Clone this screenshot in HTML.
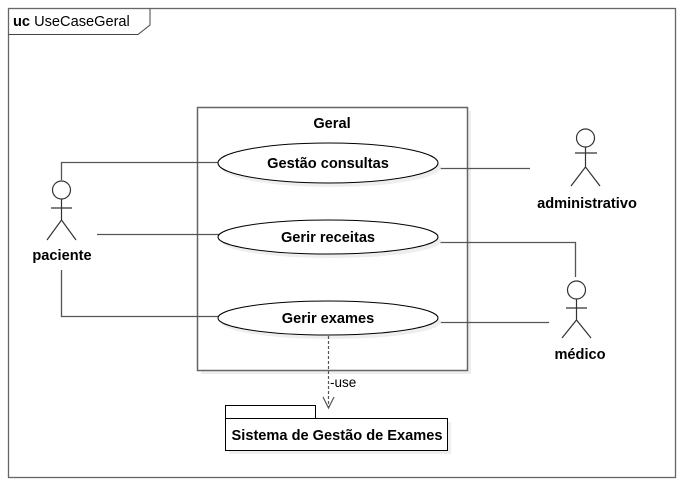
<!DOCTYPE html>
<html><head><meta charset="utf-8"><style>
html,body{margin:0;padding:0;background:#fff;}
svg{display:block;}
text{font-family:"Liberation Sans",sans-serif;fill:#000;}
</style></head><body>
<svg width="682" height="486" viewBox="0 0 682 486" xmlns="http://www.w3.org/2000/svg">
<rect x="0" y="0" width="682" height="486" fill="#fff"/>
<rect x="8.5" y="8.5" width="667" height="469" fill="none" stroke="#666" stroke-width="1.3"/>
<path d="M8.5 34.5 H138 L150 25 V8.5" fill="none" stroke="#444" stroke-width="1"/>
<text x="13" y="26" font-size="14.6"><tspan font-weight="bold">uc</tspan> UseCaseGeral</text>
<rect x="201" y="111" width="270" height="263" fill="#eee"/>
<rect x="197.5" y="107.5" width="270" height="263" fill="#fff" stroke="#666" stroke-width="1.5"/>
<text x="332" y="128" font-size="14.6" font-weight="bold" text-anchor="middle">Geral</text>
<g stroke="#555" stroke-width="1.3" fill="none">
<path d="M61.5 180 V162.5 H220"/>
<path d="M97 234.5 H220"/>
<path d="M61.5 270 V316.5 H220"/>
<path d="M436 168.5 H530"/>
<path d="M436 242.5 H575.5 V277"/>
<path d="M436 322.5 H549"/>
</g>
<g stroke="#000" stroke-width="1">
<ellipse cx="331" cy="167" rx="110" ry="20" fill="#eee" stroke="none"/>
<ellipse cx="328" cy="163" rx="110" ry="20" fill="#fff"/>
<ellipse cx="331" cy="241" rx="110" ry="17" fill="#eee" stroke="none"/>
<ellipse cx="328" cy="237" rx="110" ry="17" fill="#fff"/>
<ellipse cx="331" cy="322" rx="110" ry="17" fill="#eee" stroke="none"/>
<ellipse cx="328" cy="318" rx="110" ry="17" fill="#fff"/>
</g>
<text x="328" y="168" font-size="14.6" font-weight="bold" text-anchor="middle">Gestão consultas</text>
<text x="328" y="242" font-size="14.6" font-weight="bold" text-anchor="middle">Gerir receitas</text>
<text x="328" y="323" font-size="14.6" font-weight="bold" text-anchor="middle">Gerir exames</text>
<g stroke="#333" stroke-width="1.2" fill="#fff">
<circle cx="61.5" cy="190" r="9"/>
<path d="M61.5 199 V220 M51 208 H72 M47 240 L61.5 220 L76 240" fill="none"/>
<circle cx="585.5" cy="138" r="9"/>
<path d="M585.5 147 V167 M575 153 H597 M571 186 L585.5 167 L600 186" fill="none"/>
<circle cx="576.5" cy="290" r="9"/>
<path d="M576.5 299 V320 M566 308 H587 M562 338 L576.5 320 L591 338" fill="none"/>
</g>
<text x="62" y="260" font-size="14.6" font-weight="bold" text-anchor="middle">paciente</text>
<text x="587" y="208" font-size="14.6" font-weight="bold" text-anchor="middle">administrativo</text>
<text x="580" y="359" font-size="14.6" font-weight="bold" text-anchor="middle">médico</text>
<path d="M328.5 336 V408" stroke="#555" stroke-width="1.2" stroke-dasharray="3,2" fill="none"/>
<path d="M323 397 L328.5 408 L334 397" stroke="#555" stroke-width="1.2" fill="none"/>
<text x="330" y="387" font-size="13.5" fill="#333">-use</text>
<rect x="229" y="422" width="222" height="32" fill="#eee"/>
<rect x="225.5" y="405.5" width="90" height="13" fill="#fff" stroke="#000" stroke-width="1"/>
<rect x="225.5" y="418.5" width="222" height="32" fill="#fff" stroke="#000" stroke-width="1"/>
<text x="337" y="440" font-size="14.6" font-weight="bold" text-anchor="middle">Sistema de Gestão de Exames</text>
</svg>
</body></html>
